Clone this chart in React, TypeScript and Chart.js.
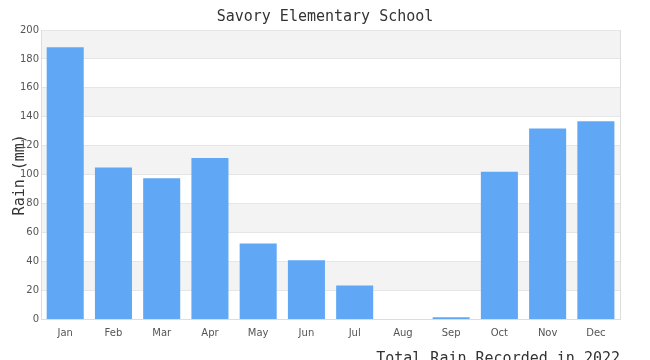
import React, { useEffect, useRef } from "react";
import { Chart, registerables } from "chart.js";

Chart.register(...registerables);

const months = ["Jan", "Feb", "Mar", "Apr", "May", "Jun", "Jul", "Aug", "Sep", "Oct", "Nov", "Dec"];
const rainMm = [188, 105, 97.5, 111.5, 52.5, 41, 23.5, 0, 1.5, 102, 132, 137];
const chartTitle = "Savory Elementary School";
const yTitle = "Rain (mm)";
const xTitle = "Total Rain Recorded in 2022";

const bandPlugin = {
  id: "bands",
  beforeDraw(chart: any) {
    const { ctx, chartArea, scales } = chart;
    const y = scales.y;
    ctx.save();
    ctx.fillStyle = "#f3f3f3";
    const ticks = y.ticks;
    for (let i = 0; i < ticks.length - 1; i++) {
      if (i % 2 === 1) {
        const top = y.getPixelForValue(ticks[i + 1].value);
        const bot = y.getPixelForValue(ticks[i].value);
        ctx.fillRect(chartArea.left, top, chartArea.right - chartArea.left, bot - top);
      }
    }
    ctx.restore();
  },
  afterDatasetsDraw(chart: any) {
    const { ctx, chartArea } = chart;
    ctx.save();
    ctx.strokeStyle = "#dddddd";
    ctx.lineWidth = 1;
    ctx.beginPath();
    ctx.moveTo(Math.round(chartArea.right) + 0.5, chartArea.top);
    ctx.lineTo(Math.round(chartArea.right) + 0.5, chartArea.bottom);
    ctx.stroke();
    ctx.restore();
  },
};

export default function App() {
  const ref = useRef<HTMLCanvasElement>(null);
  useEffect(() => {
    if (!ref.current) return;
    const chart = new Chart(ref.current, {
      type: "bar",
      data: {
        labels: months,
        datasets: [
          {
            data: rainMm,
            backgroundColor: "#60a8f5",
            barPercentage: 0.8,
            categoryPercentage: 0.96,
          },
        ],
      },
      options: {
        animation: false,
        responsive: false,
        layout: { padding: { left: 0, right: 0, top: 0, bottom: 0 } },
        plugins: {
          legend: { display: false },
          tooltip: { enabled: false },
          title: {
            display: true,
            text: chartTitle,
            color: "#333",
            font: { family: "'DejaVu Sans Mono', monospace", size: 15, weight: "normal" },
            padding: { top: 0.5, bottom: 3.5 },
          },
        },
        scales: {
          x: {
            grid: { display: false, drawTicks: false },
            border: { color: "#dddddd" },
            ticks: { color: "#555", font: { family: "'DejaVu Sans', sans-serif", size: 10 }, padding: 8 },
            title: {
              display: true,
              text: xTitle,
              align: "end",
              color: "#333",
              font: { family: "'DejaVu Sans Mono', monospace", size: 15 },
              padding: { top: 3, bottom: 7.5 },
            },
          },
          y: {
            min: 0,
            max: 200,
            ticks: { stepSize: 20, color: "#555", font: { family: "'DejaVu Sans', sans-serif", size: 10 }, padding: 2 },
            grid: { color: "#e6e6e6", drawTicks: false },
            border: { color: "#dddddd" },
            title: {
              display: true,
              text: yTitle,
              color: "#333",
              font: { family: "'DejaVu Sans Mono', monospace", size: 15 },
              padding: { top: 3, bottom: -11 },
            },
          },
          spacer: {
            type: "linear",
            position: "right",
            display: true,
            grid: { display: false, drawOnChartArea: false, drawTicks: false },
            border: { display: false },
            ticks: { display: false },
            afterFit(scale: any) {
              scale.width = 22;
            },
          },
        },
      },
      plugins: [bandPlugin],
    });
    return () => chart.destroy();
  }, []);
  return <canvas ref={ref} width={634} height={368} style={{ display: "block" }} />;
}
